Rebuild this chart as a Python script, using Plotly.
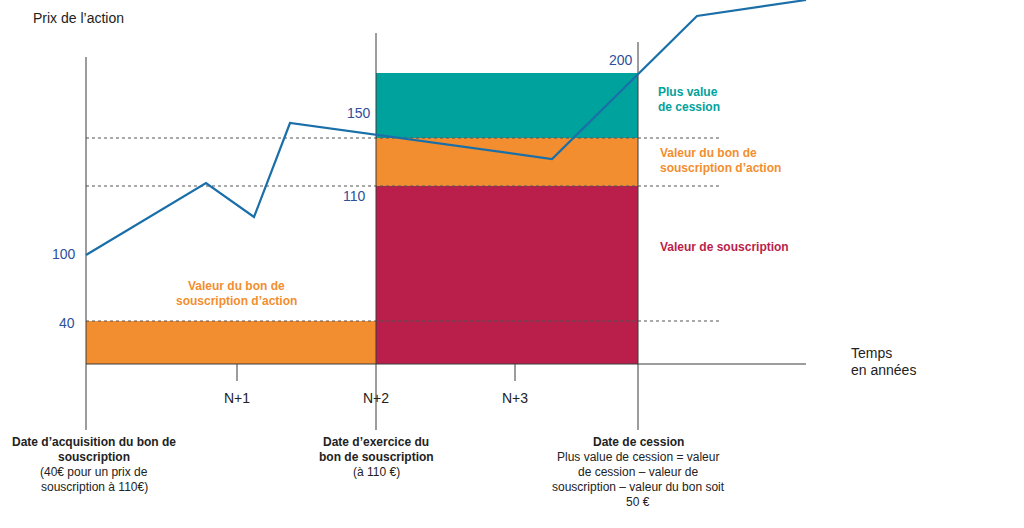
import plotly.graph_objects as go

# ---- data (diagram units: x = horizontal position on the time axis, y = height above the time axis) ----
price_path_x = [86, 206, 254, 290, 552, 697, 806]
price_path_y = [109, 181, 147, 241, 205, 348, 364]

level_labels = ["40", "100", "110", "150", "200"]
level_heights = [43, 109, 178, 226, 291]

block_x0 = [86, 376, 376, 376]
block_x1 = [376, 638, 638, 638]
block_base = [0, 0, 178, 226]
block_top = [43, 178, 226, 291]
block_colors = ["#F28E2F", "#BA1E4A", "#F28E2F", "#00A29D"]

dashed_levels = [43, 178, 226]
dashed_x = [86, 720]

year_labels = ["N+1", "N+2", "N+3"]
year_x = [237, 376, 515]

event_x = [86, 376, 638]
event_top = [307, 331, 322]
axis_x = [86, 806]

# ---- figure ----
BASE_PX = 364  # pixel row of the time axis
def Y(py):
    return BASE_PX - py

fig = go.Figure()

for x0, x1, b, t, c in zip(block_x0, block_x1, block_base, block_top, block_colors):
    fig.add_trace(go.Bar(x=[(x0 + x1) / 2], y=[t - b], base=[b], width=[x1 - x0],
                         marker=dict(color=c, line=dict(width=0)), hoverinfo="skip",
                         showlegend=False))

# dashed reference levels
for lv in dashed_levels:
    fig.add_trace(go.Scatter(x=dashed_x, y=[lv, lv], mode="lines",
                             line=dict(color="#555555", width=1, dash="3px,3px"),
                             hoverinfo="skip", showlegend=False))

# time axis
fig.add_trace(go.Scatter(x=axis_x, y=[0, 0], mode="lines",
                         line=dict(color="#3a3a3a", width=1), hoverinfo="skip", showlegend=False))
# event verticals
for ex, et in zip(event_x, event_top):
    fig.add_trace(go.Scatter(x=[ex, ex], y=[et, Y(430)], mode="lines",
                             line=dict(color="#3a3a3a", width=1), hoverinfo="skip", showlegend=False))
# year ticks
for yx in year_x:
    if yx in event_x:
        continue
    fig.add_trace(go.Scatter(x=[yx, yx], y=[0, Y(381)], mode="lines",
                             line=dict(color="#3a3a3a", width=1), hoverinfo="skip", showlegend=False))

# price path
fig.add_trace(go.Scatter(x=price_path_x, y=price_path_y, mode="lines",
                         line=dict(color="#1A6FA8", width=2.2), hoverinfo="skip", showlegend=False))

FONT = "Liberation Sans, Arial, sans-serif"
DARK = "#222222"
BLUE = "#2E4F9C"
ann = []

def add(text, x, y, size=14, color=DARK, xa="center", ya="middle", align="center"):
    ann.append(dict(text=text, x=x, y=y, xref="x", yref="y", showarrow=False,
                    xanchor=xa, yanchor=ya, align=align,
                    font=dict(family=FONT, size=size, color=color)))

def add_lines(lines, x, py0, step=15, **kw):
    for i, ln in enumerate(lines):
        add(ln, x, Y(py0 + i * step), **kw)

add("Prix de l’action", 31, Y(18), xa="left")
add_lines(["Temps", "en années"], 849, 353, step=17, xa="left")

# level numbers
level_label_pos = {"40": (77, 323), "100": (78, 254), "110": (368, 196),
                   "150": (373, 113), "200": (635, 60)}
for lab, h in zip(level_labels, level_heights):
    px, py = level_label_pos[lab]
    add(lab, px, Y(py), color=BLUE, xa="right")

for lab, yx in zip(year_labels, year_x):
    add(lab, yx, Y(398))

ORANGE_T = "#F28E2F"
add_lines(["<b>Valeur du bon de</b>", "<b>souscription d’action</b>"], 236, 286, step=15, size=12, color=ORANGE_T)
add_lines(["<b>Plus value</b>", "<b>de cession</b>"], 656, 92, step=15, size=12, color="#00A29D", xa="left")
add_lines(["<b>Valeur du bon de</b>", "<b>souscription d’action</b>"], 658, 153, step=15, size=12, color=ORANGE_T, xa="left")
add("<b>Valeur de souscription</b>", 658, Y(247), size=12, color="#BA1E4A", xa="left")

add_lines(["<b>Date d’acquisition du bon de</b>", "<b>souscription</b>",
           "(40€ pour un prix de", "souscription à 110€)"], 94, 442, size=12)
add_lines(["<b>Date d’exercice du</b>", "<b>bon de souscription</b>", "(à 110 €)"], 376, 442, size=12)
add_lines(["<b>Date de cession</b>", "Plus value de cession = valeur", "de cession – valeur de",
           "souscription – valeur du bon soit", "50 €"], 638, 442, size=12)

W, H = 1024, 528
fig.update_layout(
    width=W, height=H,
    margin=dict(l=0, r=0, t=0, b=0),
    paper_bgcolor="white", plot_bgcolor="white",
    barmode="overlay", bargap=0,
    xaxis=dict(range=[0, W], visible=False, fixedrange=True),
    yaxis=dict(range=[Y(H), Y(0)], visible=False, fixedrange=True),
    annotations=ann,
    showlegend=False,
)

fig.write_html("out.html", config={"displayModeBar": False},
               post_script="document.body.style.margin='0';document.body.style.overflow='hidden';")
